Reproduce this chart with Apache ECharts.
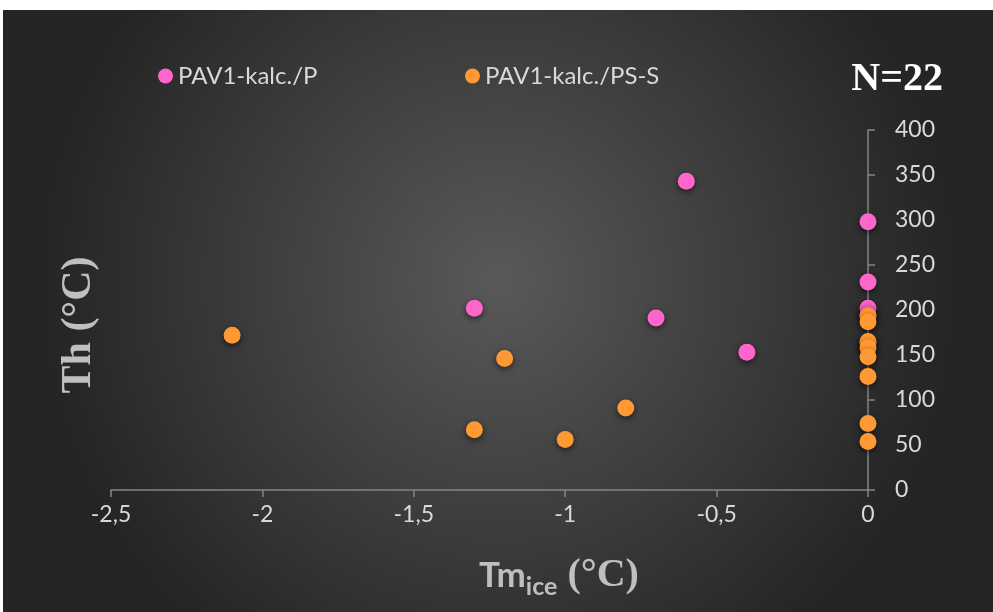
<!DOCTYPE html>
<html>
<head>
<meta charset="utf-8">
<script src="https://cdn.jsdelivr.net/npm/echarts@6/dist/echarts.min.js"></script>
<style>
  html, body { margin: 0; padding: 0; background: #fff; }
  #main { position: absolute; left: 3px; top: 10px; width: 990px; height: 602px; }
</style>
</head>
<body>
<div id="main"></div>
<script>
// Tm ice (°C) / Th (°C) pairs
const seriesP = [
    [-0.6, 343], [-1.3, 202], [-0.7, 191], [-0.4, 153],
    [0, 298], [0, 231], [0, 202], [0, 195], [0, 163]
];
const seriesPS = [
    [-2.1, 172], [-1.2, 146], [-1.3, 67], [-1.0, 56], [-0.8, 91],
    [0, 193], [0, 187], [0, 165], [0, 158], [0, 148], [0, 126], [0, 74], [0, 54]
];
const seriesNames = ['PAV1-kalc./P', 'PAV1-kalc./PS-S'];
const seriesColors = ['#ff66cc', '#ff9933'];

const chart = echarts.init(document.getElementById('main'));

const labelFont = 'Lato, "Open Sans", sans-serif';
const serif = '"Liberation Serif", "DejaVu Serif", serif';

const option = {
    backgroundColor: new echarts.graphic.RadialGradient(0.5, 0.45, 0.75, [
        { offset: 0, color: '#595959' },
        { offset: 1, color: '#252525' }
    ]),
    legend: [
        {
            data: [seriesNames[0]], left: 150, top: 49, icon: 'circle',
            itemWidth: 15, itemHeight: 15, itemGap: 4,
            textStyle: { color: '#d9d9d9', fontSize: 24, fontFamily: labelFont }
        },
        {
            data: [seriesNames[1]], left: 457, top: 49, icon: 'circle',
            itemWidth: 15, itemHeight: 15,
            textStyle: { color: '#d9d9d9', fontSize: 24, fontFamily: labelFont }
        }
    ],
    grid: { left: 108, right: 125, top: 120, bottom: 122 },
    xAxis: {
        type: 'value', min: -2.5, max: 0, interval: 0.5,
        splitLine: { show: false },
        axisLine: { onZero: false, lineStyle: { color: '#858585', width: 1.5 } },
        axisTick: { show: true, length: 7, lineStyle: { color: '#858585', width: 1.5 } },
        axisLabel: {
            color: '#d9d9d9', fontSize: 23, fontFamily: labelFont, margin: 13,
            formatter: v => String(v).replace('.', ',')
        }
    },
    yAxis: {
        type: 'value', position: 'right', min: 0, max: 400, interval: 50,
        splitLine: { show: false },
        axisLine: { show: true, lineStyle: { color: '#858585', width: 1.5 } },
        axisTick: { show: true, length: 7, lineStyle: { color: '#858585', width: 1.5 } },
        axisLabel: { color: '#d9d9d9', fontSize: 23, fontFamily: labelFont, margin: 27 }
    },
    graphic: [
        {
            type: 'text', right: 50, top: 50,
            style: { text: 'N=22', fill: '#ffffff', font: 'bold 40px ' + serif }
        },
        {
            type: 'text', x: 76, y: 315, rotation: Math.PI / 2,
            style: {
                text: 'Th (°C)', fill: '#bfbfbf', font: 'bold 42px ' + serif,
                align: 'center', verticalAlign: 'middle'
            }
        },
        {
            type: 'text', x: 556, y: 566,
            style: {
                text: '{a|Tm}{b|ice}{c| (°C)}', align: 'center', verticalAlign: 'middle',
                rich: {
                    a: { fill: '#bfbfbf', fontSize: 35, fontWeight: 'bold', fontFamily: labelFont },
                    b: { fill: '#bfbfbf', fontSize: 25, fontWeight: 'bold', fontFamily: labelFont, padding: [22, 0, 0, 0] },
                    c: { fill: '#bfbfbf', fontSize: 40, fontWeight: 'bold', fontFamily: serif }
                }
            }
        }
    ],
    series: [
        {
            name: seriesNames[0], type: 'scatter', data: seriesP, symbolSize: 17,
            itemStyle: { color: seriesColors[0], opacity: 1, shadowBlur: 6, shadowColor: 'rgba(0,0,0,0.6)', shadowOffsetY: 2 }
        },
        {
            name: seriesNames[1], type: 'scatter', data: seriesPS, symbolSize: 17,
            itemStyle: { color: seriesColors[1], opacity: 1, shadowBlur: 6, shadowColor: 'rgba(0,0,0,0.6)', shadowOffsetY: 2 }
        }
    ]
};

chart.setOption(option);
</script>
</body>
</html>
